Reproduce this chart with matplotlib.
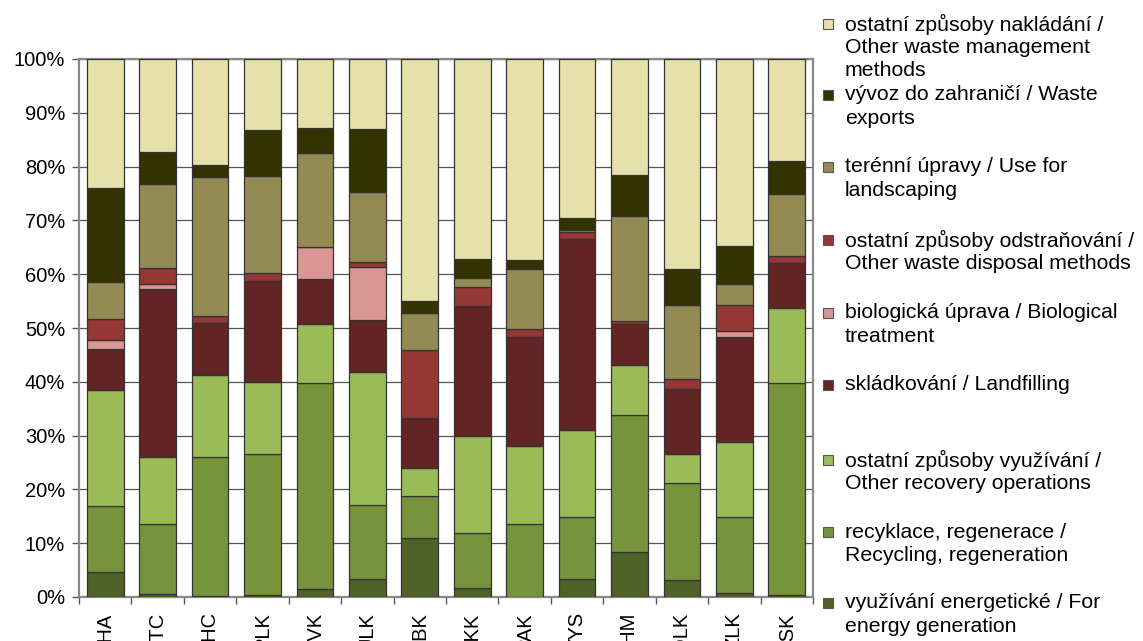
import matplotlib
matplotlib.use('Agg')
import matplotlib.pyplot as plt
import numpy as np
from matplotlib.patches import Rectangle

plt.rcParams['font.family'] = ['Liberation Sans', 'DejaVu Sans']

regions = ['PHA', 'STC', 'JHC', 'PLK', 'KVK', 'ULK', 'LBK', 'HKK', 'PAK', 'VYS', 'JHM', 'OLK', 'ZLK', 'MSK']

energy      = [4.6, 0.6, 0.2, 0.3, 1.4, 3.4, 10.9, 1.7, 0.0, 3.3, 8.4, 3.1, 0.7, 0.4]
recycling   = [12.3, 13.0, 25.9, 26.3, 38.4, 13.7, 7.8, 10.2, 13.6, 11.5, 25.5, 18.0, 14.2, 39.3]
other_recov = [21.6, 12.5, 15.1, 13.4, 11.0, 24.8, 5.2, 18.1, 14.4, 16.2, 9.2, 5.5, 14.0, 14.1]
landfill    = [7.6, 31.2, 9.8, 18.8, 8.4, 9.6, 9.4, 24.1, 20.3, 35.5, 7.7, 12.1, 19.4, 8.2]
biological  = [1.6, 0.8, 0.0, 0.0, 5.9, 9.8, 0.0, 0.0, 0.0, 0.0, 0.0, 0.0, 1.2, 0.0]
disposal    = [3.9, 3.0, 1.3, 1.5, 0.0, 1.0, 12.6, 3.6, 1.6, 1.3, 0.5, 1.8, 4.7, 1.4]
landscaping = [6.9, 15.6, 25.7, 17.9, 17.5, 12.9, 6.9, 1.6, 11.1, 0.4, 19.5, 13.8, 4.0, 11.5]
exports     = [17.6, 6.0, 2.3, 8.6, 4.6, 11.8, 2.2, 3.6, 1.6, 2.3, 7.6, 6.7, 7.1, 6.2]
other_mgmt  = [23.9, 17.3, 19.7, 13.2, 12.8, 13.0, 45.0, 37.1, 37.4, 29.5, 21.6, 39.0, 34.7, 18.9]

labels = [
    "využívání energetické / For\nenergy generation",
    "recyklace, regenerace /\nRecycling, regeneration",
    "ostatní způsoby využívání /\nOther recovery operations",
    "skládkování / Landfilling",
    "biologická úprava / Biological\ntreatment",
    "ostatní způsoby odstraňování /\nOther waste disposal methods",
    "terénní úpravy / Use for\nlandscaping",
    "vývoz do zahraničí / Waste\nexports",
    "ostatní způsoby nakládání /\nOther waste management\nmethods",
]
colors = ['#4F6228', '#77933C', '#9BBB59', '#632523', '#D99694',
          '#953735', '#948A54', '#333300', '#E6E0AA']
data = [energy, recycling, other_recov, landfill, biological,
        disposal, landscaping, exports, other_mgmt]

W, H = 1143, 641
fig = plt.figure(figsize=(W / 100, H / 100), dpi=100)
ax = fig.add_axes([79 / W, (H - 597) / H, (813 - 79) / W, (597 - 59) / H])

x = np.arange(len(regions))
bottom = np.zeros(len(regions))
for vals, lab, col in zip(data, labels, colors):
    v = np.array(vals, dtype=float)
    ax.bar(x, v, 0.7, bottom=bottom, color=col, edgecolor='#333333',
           linewidth=0.9, zorder=3)
    bottom += v

ax.set_xlim(-0.5, len(regions) - 0.5)
ax.set_ylim(0, 100)
ax.set_yticks(np.arange(0, 101, 10))
ax.yaxis.set_major_formatter(lambda v, p: f'{int(v)}%')
ax.set_xticks(x)
ax.set_xticklabels(regions, rotation=90, fontsize=14.5)
ax.tick_params(axis='x', which='major', length=0, pad=11)
ax.set_xticks(np.arange(-0.5, len(regions), 1), minor=True)
ax.tick_params(axis='x', which='minor', length=5, color='#555555', width=1)
ax.tick_params(axis='y', length=5, color='#555555', width=1, labelsize=14.5, pad=5)
ax.grid(axis='y', color='#555555', lw=0.9, zorder=0)
ax.set_axisbelow(True)
for s in ax.spines.values():
    s.set_color('#888888')
    s.set_linewidth(1.6)

# manual legend (top to bottom)
first_line_y = [24, 95, 167, 240, 313, 385, 460, 532, 603]
line_step = 23.3
for i, idx in enumerate(range(len(labels) - 1, -1, -1)):
    yc = first_line_y[i]
    fig.patches.append(Rectangle((823 / W, 1 - (yc + 5) / H), 10 / W, 10 / H,
                                 transform=fig.transFigure, facecolor=colors[idx],
                                 edgecolor='#555555', linewidth=0.8))
    for j, line in enumerate(labels[idx].split('\n')):
        fig.text(845 / W, 1 - (yc + j * line_step) / H, line, fontsize=15.3,
                 ha='left', va='center', color='black')

fig.savefig('out.png', dpi=100)
